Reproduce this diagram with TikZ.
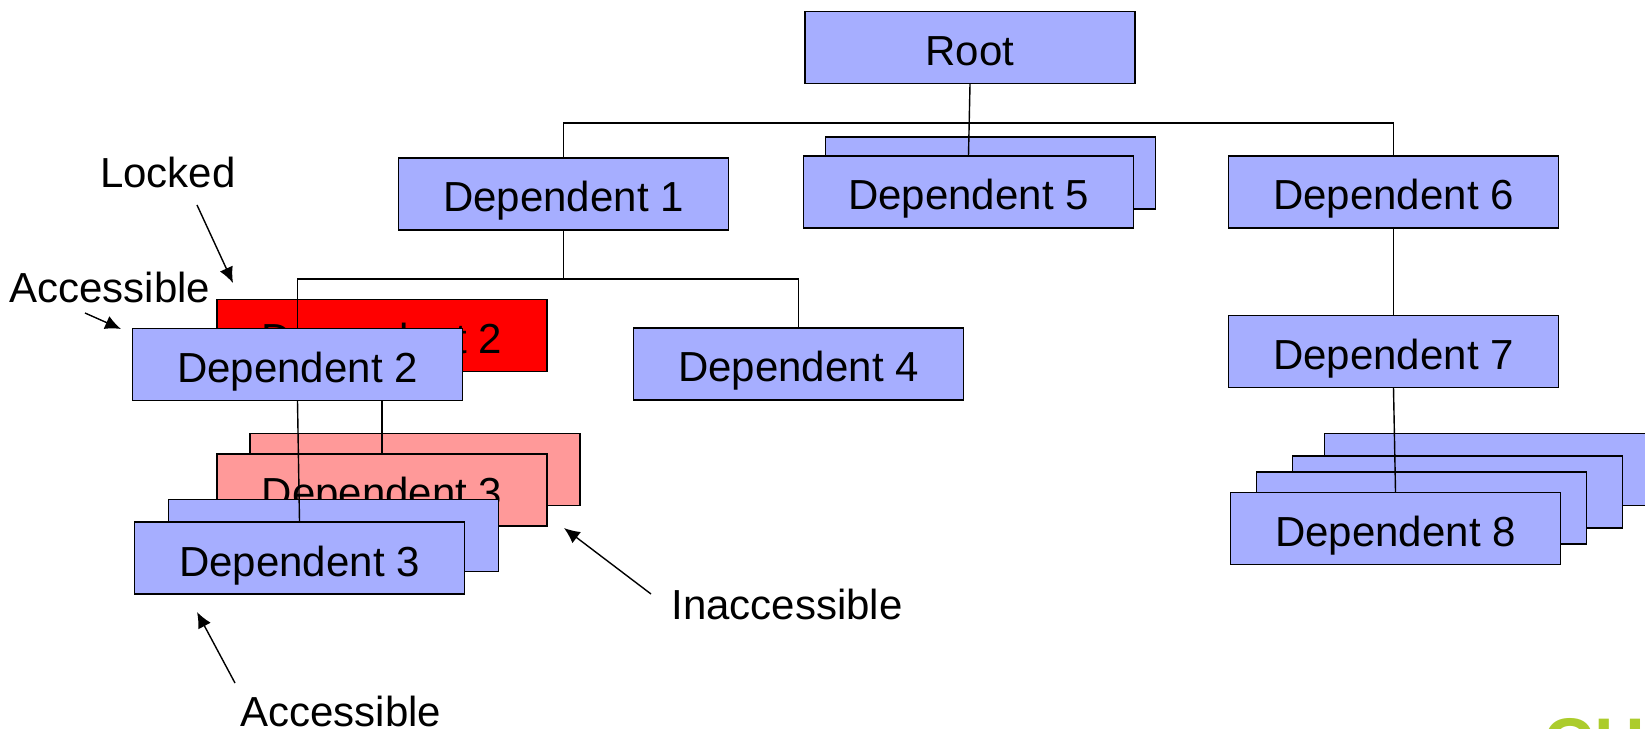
\documentclass[tikz,border=0pt]{standalone}
\usepackage{fontspec}
\setmainfont{Liberation Sans}
\usepackage{tikz}
\usetikzlibrary{positioning,arrows.meta}
\definecolor{depblue}{RGB}{166,174,255}
\definecolor{lockred}{RGB}{255,0,0}
\definecolor{ghostred}{RGB}{255,153,153}
\definecolor{logogreen}{RGB}{172,204,44}

\tikzset{
	depbox/.style={draw=black,fill=depblue,line width=0.8pt,minimum width=6.6cm,minimum height=1.44cm,inner sep=0pt,text height=0.72cm,text depth=0pt,font=\fontsize{23.9}{28}\selectfont},
	lockbox/.style={depbox,fill=lockred},
	ghostbox/.style={depbox,fill=ghostred},
	note/.style={inner sep=0pt,font=\fontsize{23.9}{28}\selectfont},
	link/.style={line width=0.8pt},
	pointer/.style={line width=0.8pt,-{Latex[length=9pt,width=8pt]}}
}

\begin{document}
\begin{tikzpicture}[x=0.02cm,y=-0.02cm]
	\useasboundingbox (0,0) rectangle (1645,729);
	% copies lying behind
	\node[depbox] (dep5b) at (990.5,173) {};
	\node[depbox] (dep8c) at (1489.5,469.5) {};
	\node[depbox] (dep8b) at (1457.5,492) {};
	\node[depbox] (dep8a) at (1421.5,508) {};
	\node[lockbox] (lock2) at (382,335.5) {Dependent 2};
	\node[ghostbox] (ghost3b) at (415,469.5) {};
	\node[ghostbox] (ghost3) at (382,490) {Dependent 3};
	\node[depbox] (dep3b) at (333.5,535.5) {};
	% the tree
	\node[depbox] (root) at (970,47.5) {Root};
	\node[depbox] (dep1) at (563.5,194) {Dependent 1};
	\node[depbox] (dep5) at (968.5,192) {Dependent 5};
	\node[depbox] (dep6) at (1393.5,192) {Dependent 6};
	\node[depbox] (dep2) at (297.5,364.5) {Dependent 2};
	\node[depbox] (dep4) at (798.5,364) {Dependent 4};
	\node[depbox] (dep7) at (1393.5,351.5) {Dependent 7};
	\node[depbox] (dep3) at (299.5,558) {Dependent 3};
	\node[depbox] (dep8) at (1395.5,528.5) {Dependent 8};
	\coordinate (rootbus) at (970,123);
	\coordinate (dep1bus) at (563.5,279);
	\draw[link] (root.south) -- (dep5.north);
	\draw[link] (dep1.north) |- (rootbus) -| (dep6.north);
	\draw[link] (dep1.south) -- (dep1bus);
	\draw[link] (dep2.north) |- (dep1bus) -| (dep4.north);
	\draw[link] (dep2.south) -- (dep3.north);
	\draw[link] (ghost3.north) -- (ghost3.north |- dep2.south);
	\draw[link] (dep6.south) -- (dep7.north);
	\draw[link] (dep7.south) -- (dep8.north);
	% labels
	\node[note] (locked) at (168,172) {Locked};
	\node[note] (acctop) at (110,287) {Accessible};
	\node[note] (inacc) at (787,604) {Inaccessible};
	\node[note] (accbot) at (341,711) {Accessible};
	\coordinate (lockedtail) at (197,205);
	\coordinate (lockedhead) at (233,283);
	\coordinate (acctoptail) at (85,313);
	\coordinate (acctophead) at (121,329);
	\coordinate (inacctail) at (651,594);
	\coordinate (inacchead) at (564,528);
	\coordinate (accbottail) at (235,683);
	\coordinate (accbothead) at (197,612);
	\draw[pointer] (lockedtail) -- (lockedhead);
	\draw[pointer] (acctoptail) -- (acctophead);
	\draw[pointer] (inacctail) -- (inacchead);
	\draw[pointer] (accbottail) -- (accbothead);
	\node[anchor=north west,inner sep=0pt,text=logogreen,font=\fontsize{40}{40}\bfseries\selectfont] (logo) at (1543,718) {CH};
\end{tikzpicture}
\end{document}
